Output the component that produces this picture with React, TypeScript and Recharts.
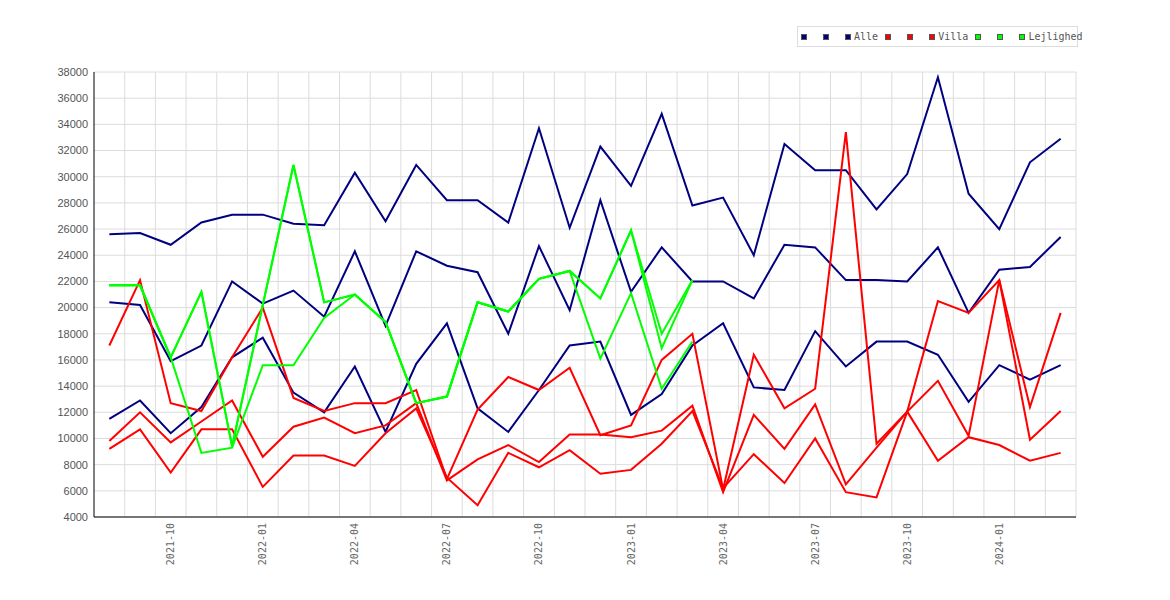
import { LineChart, Line, XAxis, YAxis, CartesianGrid, Legend } from 'recharts'

const months = [
  '2021-08', '2021-09', '2021-10', '2021-11', '2021-12',
  '2022-01', '2022-02', '2022-03', '2022-04', '2022-05', '2022-06', '2022-07',
  '2022-08', '2022-09', '2022-10', '2022-11', '2022-12',
  '2023-01', '2023-02', '2023-03', '2023-04', '2023-05', '2023-06', '2023-07',
  '2023-08', '2023-09', '2023-10', '2023-11', '2023-12',
  '2024-01', '2024-02', '2024-03',
]

const quarterTicks = [
  '2021-10', '2022-01', '2022-04', '2022-07', '2022-10',
  '2023-01', '2023-04', '2023-07', '2023-10', '2024-01',
]

const yTicks = [
  4000, 6000, 8000, 10000, 12000, 14000, 16000, 18000, 20000,
  22000, 24000, 26000, 28000, 30000, 32000, 34000, 36000, 38000,
]

// Alle
const alleHigh = [
  25600, 25700, 24800, 26500, 27100, 27100, 26400, 26300, 30300, 26600, 30900,
  28200, 28200, 26500, 33700, 26100, 32300, 29300, 34800, 27800, 28400, 24000,
  32500, 30500, 30500, 27500, 30200, 37600, 28700, 26000, 31100, 32900,
]
const alleMid = [
  20400, 20200, 15900, 17100, 22000, 20300, 21300, 19300, 24300, 18600, 24300,
  23200, 22700, 18000, 24700, 19800, 28200, 21200, 24600, 22000, 22000, 20700,
  24800, 24600, 22100, 22100, 22000, 24600, 19600, 22900, 23100, 25400,
]
const alleLow = [
  11500, 12900, 10400, 12400, 16200, 17700, 13500, 12000, 15500, 10500, 15700,
  18800, 12300, 10500, 13700, 17100, 17400, 11800, 13400, 17100, 18800, 13900,
  13700, 18200, 15500, 17400, 17400, 16400, 12800, 15600, 14500, 15600,
]

// Villa
const villaHigh = [
  17100, 22100, 12700, 12100, 16200, 20000, 13100, 12100, 12700, 12700, 13700,
  6900, 12200, 14700, 13700, 15400, 10250, 11000, 16000, 18000, 6100, 16400,
  12300, 13800, 33400, 9600, 12050, 20500, 19600, 22100, 12400, 19600,
]
const villaMid = [
  9800, 12000, 9700, 11300, 12900, 8600, 10900, 11600, 10400, 11000, 12700,
  6800, 8400, 9500, 8200, 10300, 10300, 10100, 10600, 12500, 5900, 11800,
  9200, 12600, 6500, 9300, 12050, 14400, 10200, 22100, 9900, 12100,
]
const villaLow = [
  9200, 10700, 7400, 10700, 10700, 6300, 8700, 8700, 7900, 10400, 12300,
  7000, 4900, 8900, 7800, 9100, 7300, 7600, 9600, 12100, 6200, 8800,
  6600, 10000, 5900, 5500, 12050, 8300, 10100, 9500, 8300, 8900,
]

// Lejlighed (no values after 2023-03)
const lejHigh = [
  21700, 21700, 16200, 21200, 9400, 20200, 30900, 20400, 21000, 18900, 12700,
  13200, 20400, 19700, 22200, 22800, 20700, 25900, 18000, 22100,
  null, null, null, null, null, null, null, null, null, null, null, null,
]
const lejMid = [
  21700, 21700, 16200, 8900, 9300, 15600, 15600, 19200, 21000, 18900, 12700,
  13200, 20400, 19700, 22200, 22800, 20700, 25900, 16900, 22100,
  null, null, null, null, null, null, null, null, null, null, null, null,
]
const lejLow = [
  21700, 21700, 16200, 21200, 9400, 20200, 30900, 20400, 21000, 18900, 12700,
  13200, 20400, 19700, 22200, 22800, 16100, 21100, 13800, 17400,
  null, null, null, null, null, null, null, null, null, null, null, null,
]

const NAVY = '#000080'
const RED = '#ff0000'
const GREEN = '#00ff00'

const series = [
  { key: 'alleHigh', values: alleHigh, color: NAVY, name: '' },
  { key: 'alleMid', values: alleMid, color: NAVY, name: '' },
  { key: 'alleLow', values: alleLow, color: NAVY, name: 'Alle' },
  { key: 'villaHigh', values: villaHigh, color: RED, name: '' },
  { key: 'villaMid', values: villaMid, color: RED, name: '' },
  { key: 'villaLow', values: villaLow, color: RED, name: 'Villa' },
  { key: 'lejHigh', values: lejHigh, color: GREEN, name: '' },
  { key: 'lejMid', values: lejMid, color: GREEN, name: '' },
  { key: 'lejLow', values: lejLow, color: GREEN, name: 'Lejlighed' },
]

const data = months.map((month, i) => {
  const row: Record<string, string | number | null> = { month }
  series.forEach((s) => {
    row[s.key] = s.values[i]
  })
  return row
})

const WIDTH = 1170
const HEIGHT = 600
const MARGIN = { top: 72, right: 94, bottom: 0, left: 0 }
const Y_AXIS_WIDTH = 94
const X_AXIS_HEIGHT = 83
const PLOT_WIDTH = WIDTH - MARGIN.left - MARGIN.right - Y_AXIS_WIDTH
// half a month slot on each side so the points sit in the middle of their slot
const X_PAD = PLOT_WIDTH / (months.length * 2)

function XTick({ x, y, payload }: { x?: number; y?: number; payload?: { value: string } }) {
  return (
    <text
      x={x}
      y={y}
      transform={`rotate(-90 ${x} ${y})`}
      textAnchor="end"
      dominantBaseline="central"
      fill="#666"
      fontSize={10}
      fontFamily="DejaVu Sans Mono"
    >
      {payload?.value}
    </text>
  )
}

function LegendBox() {
  return (
    <div
      style={{
        border: '1px solid #ddd',
        height: 19,
        width: 276,
        paddingLeft: 3,
        display: 'flex',
        alignItems: 'center',
        whiteSpace: 'nowrap',
        fontFamily: 'DejaVu Sans Mono',
        fontSize: 10,
        color: '#555',
        background: '#fff',
      }}
    >
      {series.map((s) => (
        <span key={s.key} style={{ display: 'inline-flex', alignItems: 'center', marginRight: 7 }}>
          <span
            style={{
              display: 'inline-block',
              width: 4,
              height: 4,
              border: '1px solid #555',
              background: s.color,
            }}
          />
          <span style={{ marginLeft: 3 }}>{s.name || '\u00a0'}</span>
        </span>
      ))}
    </div>
  )
}

export default function App() {
  return (
    <div style={{ position: 'absolute', left: 0, top: 0, width: WIDTH, height: HEIGHT, background: '#fff' }}>
      <LineChart width={WIDTH} height={HEIGHT} data={data} margin={MARGIN}>
        <CartesianGrid
          stroke="#dcdcdc"
          strokeWidth={1}
          verticalCoordinatesGenerator={({ offset }: { offset: { left: number; width: number } }) =>
            months.map((_, i) => offset.left + ((i + 1) * offset.width) / months.length)
          }
        />
        <XAxis
          dataKey="month"
          ticks={quarterTicks}
          interval={0}
          padding={{ left: X_PAD, right: X_PAD }}
          height={X_AXIS_HEIGHT}
          tick={<XTick />}
          tickLine={false}
          tickSize={6}
          tickMargin={0}
          axisLine={{ stroke: '#000' }}
        />
        <YAxis
          domain={[4000, 38000]}
          ticks={yTicks}
          interval={0}
          width={Y_AXIS_WIDTH}
          tickLine={false}
          tickSize={6}
          tickMargin={0}
          axisLine={{ stroke: '#000' }}
          tick={{ fill: '#555', fontSize: 11, fontFamily: 'Liberation Sans' }}
        />
        <Legend
          layout="horizontal"
          align="center"
          verticalAlign="middle"
          wrapperStyle={{ top: 26, left: 797, width: 'auto', height: 'auto' }}
          content={() => <LegendBox />}
        />
        {series.map((s) => (
          <Line
            key={s.key}
            type="linear"
            dataKey={s.key}
            name={s.name}
            stroke={s.color}
            strokeWidth={2}
            dot={false}
            activeDot={false}
            isAnimationActive={false}
          />
        ))}
      </LineChart>
    </div>
  )
}
